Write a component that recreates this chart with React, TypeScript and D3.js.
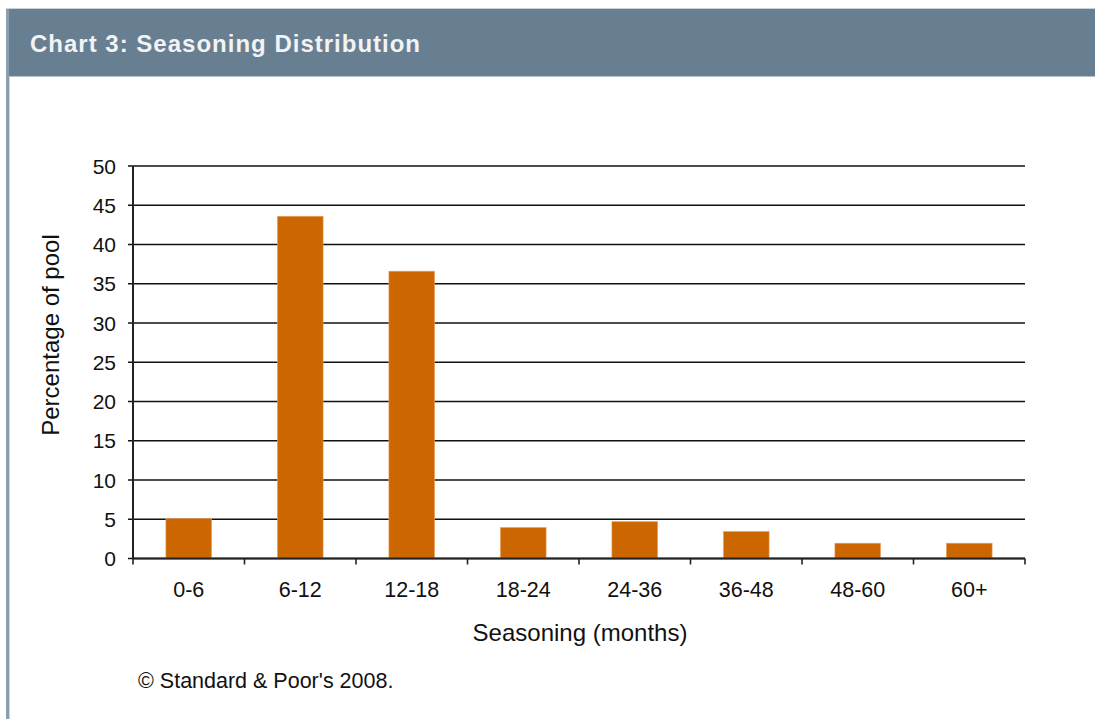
import * as d3 from "d3";

const categories = ["0-6", "6-12", "12-18", "18-24", "24-36", "36-48", "48-60", "60+"];
const values = [5.1, 43.6, 36.6, 3.95, 4.7, 3.45, 1.95, 1.95];
const yTicks = [0, 5, 10, 15, 20, 25, 30, 35, 40, 45, 50];

const WIDTH = 1095;
const HEIGHT = 719;
const PLOT = { left: 133, right: 1025, top: 166, bottom: 558.5 };
const FONT = "'Liberation Sans', Arial, sans-serif";
const BAR_COLOR = "#cc6600";

export default function App() {
  const x = d3
    .scaleBand<string>()
    .domain(categories)
    .range([PLOT.left, PLOT.right])
    .paddingInner(0.59)
    .paddingOuter(0.295);
  const y = d3.scaleLinear().domain([0, 50]).range([PLOT.bottom, PLOT.top]);
  const step = x.step();

  // category boundaries for the x tick marks
  const xBounds = d3.range(categories.length + 1).map((i) => PLOT.left + i * step);

  return (
    <svg
      width={WIDTH}
      height={HEIGHT}
      style={{ position: "absolute", left: 0, top: 0, background: "#fff" }}
      fontFamily={FONT}
    >
      {/* panel frame + header */}
      <rect x={0} y={0} width={WIDTH} height={HEIGHT} fill="#fff" />
      <rect x={6} y={8} width={WIDTH - 6} height={1} fill="#c9d2d9" />
      <rect x={6} y={9} width={WIDTH - 6} height={67} fill="#687f91" />
      <rect x={9} y={76} width={WIDTH - 9} height={1} fill="#b4c1ca" />
      <rect x={6} y={9} width={3} height={HEIGHT - 9} fill="#8aa0af" />
      <rect x={9} y={77} width={1} height={HEIGHT - 77} fill="#cdd6dc" />
      <text x={30} y={52} fill="#f1f3f5" fontSize={24} fontWeight="bold" letterSpacing={1}>
        Chart 3: Seasoning Distribution
      </text>

      {/* gridlines */}
      {yTicks.map((t) => (
        <line
          key={"g" + t}
          x1={PLOT.left - 5}
          x2={PLOT.right}
          y1={y(t)}
          y2={y(t)}
          stroke="#111"
          strokeWidth={1.6}
        />
      ))}

      {/* bars */}
      {categories.map((c, i) => (
        <rect
          key={c}
          x={x(c)}
          y={y(values[i])}
          width={x.bandwidth()}
          height={y(0) - y(values[i])}
          fill={BAR_COLOR}
          stroke="#e9a56a"
          strokeWidth={0.6}
        />
      ))}

      {/* axes */}
      <line x1={PLOT.left} x2={PLOT.left} y1={PLOT.top} y2={PLOT.bottom} stroke="#222" strokeWidth={2} />
      <line x1={PLOT.left} x2={PLOT.right} y1={PLOT.bottom} y2={PLOT.bottom} stroke="#222" strokeWidth={2} />
      {xBounds.map((bx, i) => (
        <line key={"xt" + i} x1={bx} x2={bx} y1={PLOT.bottom} y2={PLOT.bottom + 6} stroke="#222" strokeWidth={1.6} />
      ))}

      {/* y tick labels */}
      {yTicks.map((t) => (
        <text key={"yl" + t} x={116} y={y(t)} dy="0.36em" textAnchor="end" fontSize={21} fill="#111">
          {t}
        </text>
      ))}

      {/* x tick labels */}
      {categories.map((c) => (
        <text
          key={"xl" + c}
          x={(x(c) ?? 0) + x.bandwidth() / 2}
          y={597}
          textAnchor="middle"
          fontSize={21.5}
          fill="#111"
        >
          {c}
        </text>
      ))}

      {/* axis titles */}
      <text x={580} y={641} textAnchor="middle" fontSize={24} fill="#111">
        Seasoning (months)
      </text>
      <text transform="translate(59,335) rotate(-90)" textAnchor="middle" fontSize={24} fill="#111">
        Percentage of pool
      </text>

      <text x={138} y={688} fontSize={21.5} fill="#111">
        © Standard &amp; Poor's 2008.
      </text>
    </svg>
  );
}
